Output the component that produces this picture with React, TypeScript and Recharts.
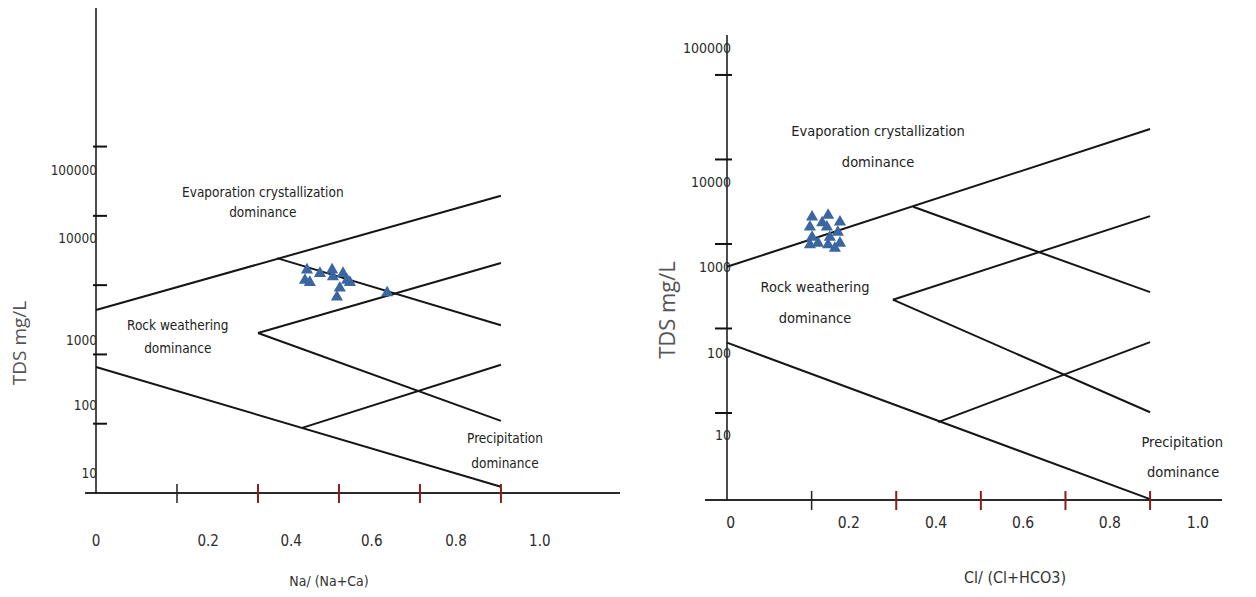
import React from 'react';
import { ScatterChart, Scatter, XAxis, YAxis, ZAxis, ReferenceLine, ReferenceDot } from 'recharts';

const FONT = "'Liberation Sans Narrow', 'DejaVu Sans Condensed', 'Arial Narrow', sans-serif";
const TICK_RED = '#8b1c1c';
const MARKER = '#3a66a2';

// shared axis ticks
const tdsTicks = [10, 100, 1000, 10000, 100000];
const tdsTickLabels = ['10', '100', '1000', '10000', '100000'];
const ratioTicks = [0.2, 0.4, 0.6, 0.8, 1.0];
const ratioTickLabels = ['0', '0.2', '0.4', '0.6', '0.8', '1.0'];

// Na/(Na+Ca) panel samples
const naRatio = [0.521, 0.516, 0.528, 0.553, 0.583, 0.585, 0.61, 0.62, 0.627, 0.602, 0.595, 0.719];
const naTds = [1660, 1175, 1096, 1479, 1660, 1318, 1479, 1175, 1096, 912, 676, 776];

// Cl/(Cl+HCO3) panel samples
const clRatio = [0.201, 0.196, 0.201, 0.196, 0.225, 0.239, 0.236, 0.243, 0.239, 0.267, 0.262, 0.267, 0.215, 0.255];
const clTds = [2089, 1585, 1202, 977, 1778, 2188, 1585, 1202, 977, 1820, 1380, 1023, 1023, 891];

// Gibbs boundaries: [ratio1, tds1, ratio2, tds2]
const naBoundaries = [
  [0, 437, 1.0, 19500],
  [0.447, 2455, 1.0, 263],
  [0.4, 204, 1.0, 2089],
  [0.4, 204, 1.0, 11],
  [0.509, 8.7, 1.0, 71],
  [0, 66, 1.0, 1.23],
];
const clBoundaries = [
  [0, 537, 1.0, 22900],
  [0.44, 2754, 1.0, 269],
  [0.392, 219, 1.0, 2138],
  [0.392, 219, 1.0, 10.2],
  [0.499, 7.8, 1.0, 69],
  [0, 68, 1.0, 0.955],
];

// where the hand-placed tick labels sit along each axis
const naLabelX = [0, 0.277, 0.482, 0.681, 0.889, 1.096];
const naLabelY = [1.95, 18.6, 162, 4790, 45700];
const clLabelX = [0.009, 0.288, 0.494, 0.7, 0.905, 1.113];
const clLabelY = [5.5, 51, 537, 5370, 209000];

const naNotes = [
  { text: 'Evaporation crystallization', x: 0.412, tds: 21900 },
  { text: 'dominance', x: 0.412, tds: 11200 },
  { text: 'Rock weathering', x: 0.202, tds: 263 },
  { text: 'dominance', x: 0.202, tds: 123 },
  { text: 'Precipitation', x: 1.01, tds: 6.2 },
  { text: 'dominance', x: 1.01, tds: 2.7 },
];
const clNotes = [
  { text: 'Evaporation crystallization', x: 0.357, tds: 21900 },
  { text: 'dominance', x: 0.357, tds: 9330 },
  { text: 'Rock weathering', x: 0.208, tds: 309 },
  { text: 'dominance', x: 0.208, tds: 132 },
  { text: 'Precipitation', x: 1.076, tds: 4.57 },
  { text: 'dominance', x: 1.078, tds: 2.0 },
];

interface PanelProps {
  left: number;
  width: number;
  margin: { top: number; right: number; bottom: number; left: number };
  xDomain: [number, number];
  yDomain: [number, number];
  xAxisStart: number;
  ratio: number[];
  tds: number[];
  boundaries: number[][];
  notes: { text: string; x: number; tds: number }[];
  labelX: number[];
  labelY: number[];
  yTick: [number, number];
  yLabelDx: number;
  xLabelDy: number;
  fontSize: number;
  xTickFont: number;
  yTickFont: number;
}

const GibbsPanel: React.FC<PanelProps> = (p) => {
  const data = p.ratio.map((r, i) => ({ ratio: r, tds: p.tds[i] }));
  const yMin = p.yDomain[0];

  return (
    <div style={{ position: 'absolute', left: p.left, top: 0 }}>
      <ScatterChart width={p.width} height={597} margin={p.margin}>
        <XAxis
          xAxisId="main"
          type="number"
          dataKey="ratio"
          domain={p.xDomain}
          allowDataOverflow
          ticks={ratioTicks}
          interval={0}
          height={1}
          tickSize={0}
          tickMargin={0}
          axisLine={false}
          tick={(t: any) => (
            <line
              x1={t.x}
              x2={t.x}
              y1={t.y - 9}
              y2={t.y + 10}
              stroke={t.index === 0 ? '#222' : TICK_RED}
              strokeWidth={t.index === 0 ? 1.5 : 2}
            />
          )}
        />
        <XAxis
          xAxisId="xLabels"
          type="number"
          dataKey="ratio"
          domain={p.xDomain}
          allowDataOverflow
          ticks={p.labelX}
          interval={0}
          height={1}
          tickSize={0}
          tickMargin={0}
          axisLine={false}
          tick={(t: any) => (
            <text x={t.x} y={t.y + p.xLabelDy} textAnchor="middle" dominantBaseline="central" fontSize={p.xTickFont} fontFamily={FONT} fill="#2b2b2b">
              {ratioTickLabels[t.index]}
            </text>
          )}
        />
        <YAxis
          yAxisId="main"
          type="number"
          dataKey="tds"
          scale="log"
          domain={p.yDomain}
          allowDataOverflow
          ticks={tdsTicks}
          interval={0}
          width={1}
          tickSize={0}
          tickMargin={0}
          axisLine={{ stroke: '#111', strokeWidth: 1.5 }}
          tick={(t: any) => (
            <line x1={t.x - p.yTick[0]} x2={t.x + p.yTick[1]} y1={t.y} y2={t.y} stroke="#111" strokeWidth={2} />
          )}
        />
        <YAxis
          yAxisId="yLabels"
          type="number"
          dataKey="tds"
          scale="log"
          domain={p.yDomain}
          allowDataOverflow
          ticks={p.labelY}
          interval={0}
          width={1}
          tickSize={0}
          tickMargin={0}
          axisLine={false}
          tick={(t: any) => (
            <text x={t.x + p.yLabelDx} y={t.y} textAnchor="end" dominantBaseline="central" fontSize={p.yTickFont} fontFamily={FONT} fill="#2b2b2b">
              {tdsTickLabels[t.index]}
            </text>
          )}
        />
        <ZAxis range={[60, 60]} />
        <ReferenceLine
          xAxisId="main"
          yAxisId="main"
          segment={[{ x: p.xAxisStart, y: yMin }, { x: p.xDomain[1], y: yMin }]}
          stroke="#2a2a2a"
          strokeWidth={2}
          ifOverflow="visible"
        />
        {p.boundaries.map((b, i) => (
          <ReferenceLine
            key={i}
            xAxisId="main"
            yAxisId="main"
            segment={[{ x: b[0], y: b[1] }, { x: b[2], y: b[3] }]}
            stroke="#151515"
            strokeWidth={2}
            ifOverflow="visible"
          />
        ))}
        {p.notes.map((n, i) => (
          <ReferenceDot
            key={i}
            xAxisId="main"
            yAxisId="main"
            x={n.x}
            y={n.tds}
            r={0}
            fill="none"
            stroke="none"
            ifOverflow="visible"
            label={{ value: n.text, position: 'center', fill: '#222', fontSize: p.fontSize, fontFamily: FONT }}
          />
        ))}
        <Scatter xAxisId="main" yAxisId="main" data={data} shape="triangle" fill={MARKER} isAnimationActive={false} />
      </ScatterChart>
    </div>
  );
};

const titleStyle: React.CSSProperties = {
  position: 'absolute',
  whiteSpace: 'nowrap',
  transform: 'translate(-50%, -50%)',
  fontFamily: FONT,
  color: '#333',
};

const tdsStyle: React.CSSProperties = {
  position: 'absolute',
  whiteSpace: 'nowrap',
  transform: 'translate(-50%, -50%) rotate(-90deg)',
  fontFamily: "'Open Sans', 'DejaVu Sans', sans-serif",
  color: '#555',
};

export default function App() {
  return (
    <div style={{ position: 'absolute', left: 0, top: 0, width: 1256, height: 597, background: '#fff', overflow: 'hidden' }}>
      <GibbsPanel
        left={0}
        width={628}
        margin={{ top: 8, right: 8, bottom: 102, left: 94 }}
        xDomain={[0, 1.294]}
        yDomain={[1, 1e7]}
        xAxisStart={-0.027}
        ratio={naRatio}
        tds={naTds}
        boundaries={naBoundaries}
        notes={naNotes}
        labelX={naLabelX}
        labelY={naLabelY}
        yTick={[3, 11]}
        yLabelDx={2}
        xLabelDy={47}
        fontSize={13.5}
        xTickFont={15}
        yTickFont={13.5}
      />
      <GibbsPanel
        left={628}
        width={628}
        margin={{ top: 35, right: 34, bottom: 95, left: 97 }}
        xDomain={[0, 1.17]}
        yDomain={[0.934, 297000]}
        xAxisStart={-0.052}
        ratio={clRatio}
        tds={clTds}
        boundaries={clBoundaries}
        notes={clNotes}
        labelX={clLabelX}
        labelY={clLabelY}
        yTick={[12, 5]}
        yLabelDx={5}
        xLabelDy={22}
        fontSize={14.5}
        xTickFont={15.5}
        yTickFont={14}
      />
      <div style={{ ...tdsStyle, left: 19, top: 343, fontSize: 19 }}>TDS mg/L</div>
      <div style={{ ...tdsStyle, left: 666, top: 310, fontSize: 22 }}>TDS mg/L</div>
      <div style={{ ...titleStyle, left: 329, top: 581, fontSize: 14 }}>Na/ (Na+Ca)</div>
      <div style={{ ...titleStyle, left: 1015, top: 577, fontSize: 16 }}>Cl/ (Cl+HCO3)</div>
    </div>
  );
}
